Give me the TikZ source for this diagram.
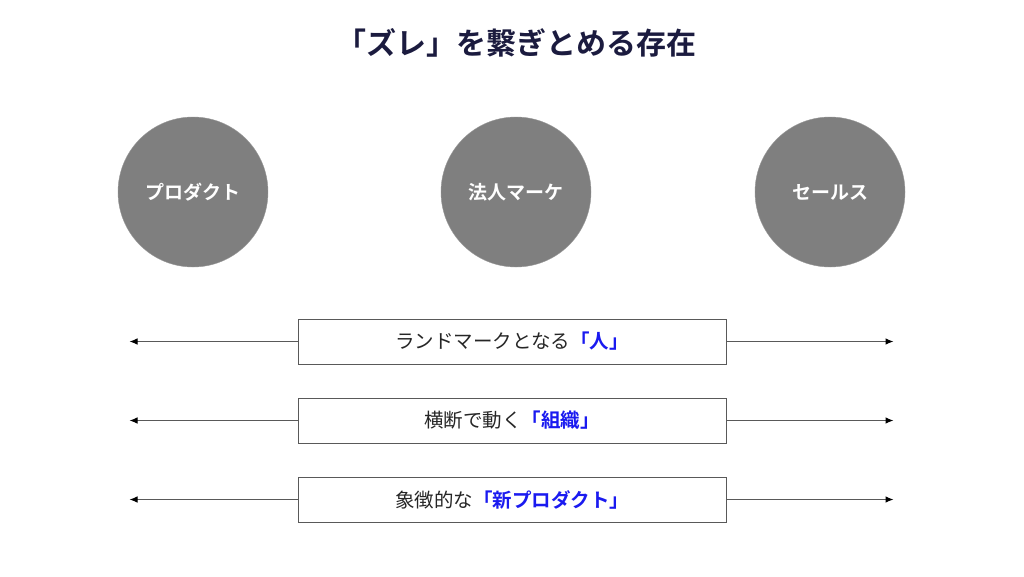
\documentclass[tikz,border=0pt]{standalone}
\usepackage{fontspec}
\setmainfont{Noto Sans CJK JP}
\newfontfamily\jpb{Noto Sans CJK JP Bold}
\usetikzlibrary{arrows.meta}
\definecolor{navy}{HTML}{1B1B3F}
\definecolor{circgray}{HTML}{7F7F7F}
\definecolor{txtgray}{HTML}{262626}
\definecolor{accent}{HTML}{1A1AF0}
\tikzset{
  circ/.style={circle, fill=circgray, draw=circgray!80!white, minimum size=150pt, inner sep=0pt, text=white, font=\jpb\fontsize{19}{22}\selectfont},
  labelbox/.style={draw=black!65, line width=1pt, fill=white, minimum width=428pt, minimum height=45pt, inner sep=0pt, text=txtgray, font=\fontsize{19.5}{22}\selectfont},
  conn/.style={draw=black!65, line width=1pt, -{Latex[length=8pt,width=6.5pt,black]}}
}
\newcommand{\hl}[1]{{\jpb\color{accent}#1}}
\begin{document}
\begin{tikzpicture}[x=1pt,y=-1pt]
\useasboundingbox (0,0) rectangle (1024,576);
\node[text=navy, font=\jpb\fontsize{30}{34}\selectfont] (title) at (516,43) {「ズレ」を繋ぎとめる存在};
\node[circ] (c1) at (193,192) {プロダクト};
\node[circ] (c2) at (516,192) {法人マーケ};
\node[circ] (c3) at (830,192) {セールス};
\node[labelbox] (b1) at (512,341.5) {ランドマークとなる\hl{「人」}};
\node[labelbox] (b2) at (512,420.5) {横断で動く\hl{「組織」}};
\node[labelbox] (b3) at (512,499.5) {象徴的な\hl{「新プロダクト」}};
\foreach \b in {b1,b2,b3}{
  \coordinate (\b l) at ([xshift=-168pt]\b.west);
  \coordinate (\b r) at ([xshift=167pt]\b.east);
  \draw[conn] (\b.west) -- (\b l);
  \draw[conn] (\b.east) -- (\b r);
}
\end{tikzpicture}
\end{document}
